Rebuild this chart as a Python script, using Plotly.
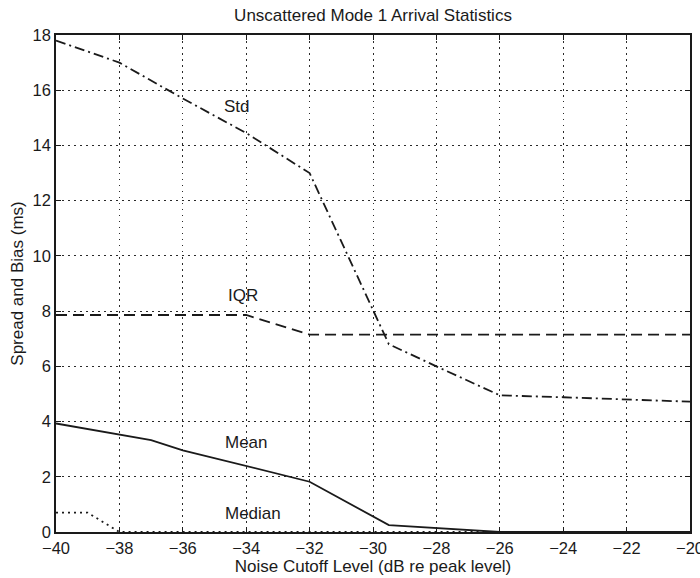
import plotly.graph_objects as go

# Noise cutoff levels (dB re peak level) and statistics (ms)
std_x = [-40, -38, -36, -34, -32, -29.5, -28, -26, -24, -22, -20]
std_y = [17.8, 17.0, 15.7, 14.45, 13.0, 6.8, 6.0, 4.95, 4.88, 4.8, 4.72]

iqr_x = [-40, -38, -36, -34, -32, -30, -28, -26, -24, -22, -20]
iqr_y = [7.86, 7.86, 7.86, 7.86, 7.15, 7.15, 7.15, 7.15, 7.15, 7.15, 7.15]

mean_x = [-40, -38, -37, -36, -34, -32, -29.5, -28, -26, -24, -22, -20]
mean_y = [3.93, 3.53, 3.33, 2.96, 2.38, 1.82, 0.25, 0.15, 0.0, 0.0, 0.0, 0.0]

median_x = [-40, -39, -38, -36, -34, -32, -30, -28, -26, -24, -22, -20]
median_y = [0.7, 0.7, 0.0, 0.0, 0.0, 0.0, 0.0, 0.0, 0.0, 0.0, 0.0, 0.0]

label_text = ["Std", "IQR", "Mean", "Median"]
label_x = [-34.3, -34.1, -34.0, -33.8]
label_y = [15.4, 8.58, 3.24, 0.68]

x_ticks = [-40, -38, -36, -34, -32, -30, -28, -26, -24, -22, -20]
y_ticks = [0, 2, 4, 6, 8, 10, 12, 14, 16, 18]

ink = "#1a1a1a"
font = "Liberation Sans, Arial, Helvetica, sans-serif"
fsize = 17
tsize = 16.5

fig = go.Figure()
fig.add_trace(go.Scatter(x=std_x, y=std_y, mode="lines",
                         line=dict(color=ink, width=1.8, dash="10px,4px,2px,4px")))
fig.add_trace(go.Scatter(x=iqr_x, y=iqr_y, mode="lines",
                         line=dict(color=ink, width=1.8, dash="11px,6px")))
fig.add_trace(go.Scatter(x=mean_x, y=mean_y, mode="lines",
                         line=dict(color=ink, width=1.8)))
fig.add_trace(go.Scatter(x=median_x, y=median_y, mode="lines",
                         line=dict(color=ink, width=1.8, dash="2px,4px")))

for t, xx, yy in zip(label_text, label_x, label_y):
    fig.add_annotation(x=xx, y=yy, text=t, showarrow=False,
                       font=dict(family=font, size=fsize, color=ink))

axis_common = dict(
    showline=True, linecolor=ink, linewidth=1.5, mirror="ticks",
    ticks="inside", ticklen=5, tickcolor=ink, tickwidth=1,
    showgrid=True, gridcolor="#2a2a2a", gridwidth=1.2, griddash="1.5px,4.5px",
    zeroline=False, automargin=False, ticklabeloverflow="allow",
    tickfont=dict(family=font, size=tsize, color=ink),
)

fig.update_xaxes(range=[-40, -20], tickvals=x_ticks,
                 title=dict(text="Noise Cutoff Level (dB re peak level)",
                            font=dict(family=font, size=fsize, color=ink), standoff=0),
                 **axis_common)
fig.update_yaxes(range=[0, 18], tickvals=y_ticks,
                 title=dict(text="Spread and Bias (ms)",
                            font=dict(family=font, size=fsize, color=ink), standoff=5),
                 **axis_common)

fig.update_layout(
    width=700, height=578,
    margin=dict(l=56, r=10, t=35, b=46),
    paper_bgcolor="white", plot_bgcolor="white",
    showlegend=False,
    title=dict(text="Unscattered Mode 1 Arrival Statistics", x=373 / 700, xanchor="center",
               xref="container",
               y=1 - 15 / 578, yanchor="middle",
               font=dict(family=font, size=fsize, color=ink)),
)

fig.write_html("out.html")
